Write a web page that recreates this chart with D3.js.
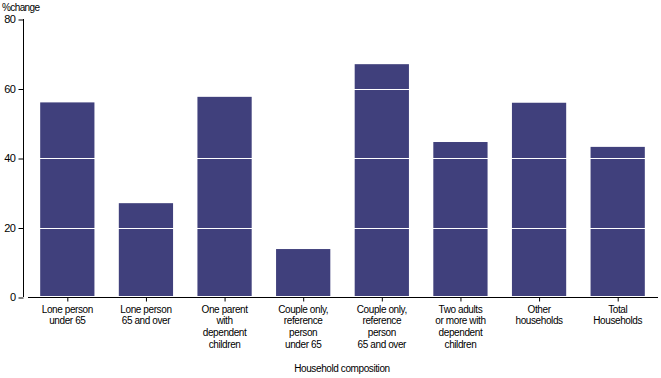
<!DOCTYPE html>
<html><head><meta charset="utf-8">
<script src="https://cdn.jsdelivr.net/npm/d3@7"></script>
<style>body{margin:0;background:#fff}svg{display:block}text{font-family:"Liberation Sans",Arial,sans-serif;fill:#000}</style>
</head><body><svg id="c" width="661" height="378"></svg>
<script>
const categories = [
  ["Lone person","under 65"],
  ["Lone person","65 and over"],
  ["One parent","with","dependent","children"],
  ["Couple only,","reference","person","under 65"],
  ["Couple only,","reference","person","65 and over"],
  ["Two adults","or more with","dependent","children"],
  ["Other","households"],
  ["Total","Households"]
];
const values = [56, 27, 57.6, 13.8, 67, 44.6, 55.9, 43.2];
const yTicks = [0, 20, 40, 60, 80];
const yTitle = "%change";
const xTitle = "Household composition";

const svg = d3.select("#c");
const x = d3.scaleBand().domain(d3.range(categories.length)).range([28, 657]).paddingInner(0.31).paddingOuter(0.155);
const y = d3.scaleLinear().domain([0, 80]).range([297, 19]);

svg.selectAll("rect.bar").data(values).join("rect").attr("class","bar")
  .attr("x", (d,i) => x(i)).attr("width", x.bandwidth())
  .attr("y", d => y(d)).attr("height", d => y(0) - y(d) - 1)
  .attr("fill", "#40407c");

// white gridlines over bars
svg.selectAll("line.grid").data(yTicks.filter(t => t > 0 && t < 80)).join("line").attr("class","grid")
  .attr("x1", 28).attr("x2", 657).attr("y1", d => Math.round(y(d)) + 0.5).attr("y2", d => Math.round(y(d)) + 0.5)
  .attr("stroke", "#fff").attr("stroke-width", 1);

// y axis
const ya = svg.append("g").attr("transform", "translate(23.5,0)")
  .call(d3.axisLeft(y).tickValues(yTicks).tickSize(5).tickPadding(3));
ya.select(".domain").attr("d", `M0,${y(80)}V${y(0)}`);
ya.selectAll("text").style("font-size", "11px").style("letter-spacing","-0.5px");
ya.selectAll("line").attr("y1",0.5).attr("y2",0.5);

// x axis
const xa = svg.append("g").attr("transform", `translate(0,${y(0)+0.5})`)
  .call(d3.axisBottom(x).tickSize(4).tickFormat(""));
xa.select(".domain").attr("d", "M28,0H658");
xa.selectAll(".tick line").attr("transform","translate(0.5,0)");
xa.selectAll(".tick").each(function(d){
  const t = d3.select(this).append("text").attr("text-anchor","middle").style("font-size","10px").style("letter-spacing","-0.4px");
  categories[d].forEach((s,j)=> t.append("tspan").attr("x",0).attr("y", 15 + j*11.7).text(s));
});

svg.append("text").attr("x", 2).attr("y", 11).style("font-size","10px").style("letter-spacing","-0.6px").text(yTitle);
svg.append("text").attr("x", 342).attr("y", 372).attr("text-anchor","middle").style("font-size","10px").style("letter-spacing","-0.4px").text(xTitle);
</script></body></html>
